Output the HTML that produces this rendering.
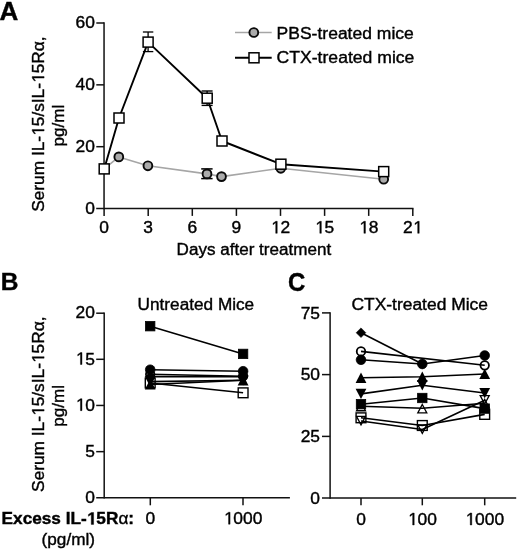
<!DOCTYPE html>
<html><head><meta charset="utf-8"><title>Figure</title>
<style>
html,body{margin:0;padding:0;background:#fff;}
body{width:520px;height:550px;overflow:hidden;}
svg{display:block;font-family:"Liberation Sans",sans-serif;fill:#000;}
text{stroke:#000;stroke-width:0.4px;}
</style></head><body>
<svg width="520" height="550" viewBox="0 0 520 550" style="filter:grayscale(1)">
<rect x="0" y="0" width="520" height="550" fill="#fff"/>
<text x="-0.4" y="19.6" text-anchor="start" font-size="25" font-weight="bold" textLength="18.8" lengthAdjust="spacingAndGlyphs">A</text>
<line x1="104.05" y1="22.25" x2="104.05" y2="209.35" stroke="#111" stroke-width="1.5" stroke-linecap="butt"/>
<line x1="96.2" y1="208.6" x2="413.5" y2="208.6" stroke="#111" stroke-width="1.5" stroke-linecap="butt"/>
<line x1="96.3" y1="23.0" x2="104.05" y2="23.0" stroke="#111" stroke-width="1.5" stroke-linecap="butt"/>
<text x="75.55" y="28.2" font-size="17.4">6</text>
<text x="85.22" y="28.2" font-size="17.4">0</text>
<line x1="96.3" y1="84.85" x2="104.05" y2="84.85" stroke="#111" stroke-width="1.5" stroke-linecap="butt"/>
<text x="75.55" y="90.05" font-size="17.4">4</text>
<text x="85.22" y="90.05" font-size="17.4">0</text>
<line x1="96.3" y1="146.7" x2="104.05" y2="146.7" stroke="#111" stroke-width="1.5" stroke-linecap="butt"/>
<text x="75.55" y="151.89999999999998" font-size="17.4">2</text>
<text x="85.22" y="151.89999999999998" font-size="17.4">0</text>
<text x="85.22" y="213.79999999999998" font-size="17.4">0</text>
<line x1="104.1" y1="208.6" x2="104.1" y2="215.9" stroke="#111" stroke-width="1.5" stroke-linecap="butt"/>
<text x="99.26" y="233.3" font-size="17.4">0</text>
<line x1="148.2" y1="208.6" x2="148.2" y2="215.9" stroke="#111" stroke-width="1.5" stroke-linecap="butt"/>
<text x="143.36" y="233.3" font-size="17.4">3</text>
<line x1="192.29999999999998" y1="208.6" x2="192.29999999999998" y2="215.9" stroke="#111" stroke-width="1.5" stroke-linecap="butt"/>
<text x="187.46" y="233.3" font-size="17.4">6</text>
<line x1="236.39999999999998" y1="208.6" x2="236.39999999999998" y2="215.9" stroke="#111" stroke-width="1.5" stroke-linecap="butt"/>
<text x="231.56" y="233.3" font-size="17.4">9</text>
<line x1="280.5" y1="208.6" x2="280.5" y2="215.9" stroke="#111" stroke-width="1.5" stroke-linecap="butt"/>
<path d="M575 0V1237L257 1010V1180L590 1409H756V0Z" transform="translate(270.82,233.3) scale(0.00850,-0.00850)" fill="#000" stroke="#000" stroke-width="47"/>
<text x="280.50" y="233.3" font-size="17.4">2</text>
<line x1="324.6" y1="208.6" x2="324.6" y2="215.9" stroke="#111" stroke-width="1.5" stroke-linecap="butt"/>
<path d="M575 0V1237L257 1010V1180L590 1409H756V0Z" transform="translate(314.92,233.3) scale(0.00850,-0.00850)" fill="#000" stroke="#000" stroke-width="47"/>
<text x="324.60" y="233.3" font-size="17.4">5</text>
<line x1="368.69999999999993" y1="208.6" x2="368.69999999999993" y2="215.9" stroke="#111" stroke-width="1.5" stroke-linecap="butt"/>
<path d="M575 0V1237L257 1010V1180L590 1409H756V0Z" transform="translate(359.02,233.3) scale(0.00850,-0.00850)" fill="#000" stroke="#000" stroke-width="47"/>
<text x="368.70" y="233.3" font-size="17.4">8</text>
<line x1="412.79999999999995" y1="208.6" x2="412.79999999999995" y2="215.9" stroke="#111" stroke-width="1.5" stroke-linecap="butt"/>
<text x="403.12" y="233.3" font-size="17.4">2</text>
<path d="M575 0V1237L257 1010V1180L590 1409H756V0Z" transform="translate(412.80,233.3) scale(0.00850,-0.00850)" fill="#000" stroke="#000" stroke-width="47"/>
<text x="253.9" y="254.6" text-anchor="middle" font-size="17.3" font-weight="normal" textLength="154.6" lengthAdjust="spacingAndGlyphs">Days after treatment</text>
<g transform="translate(44.1,211.8) rotate(-90) scale(1.00008,1)">
<text x="0.00" y="0" font-size="17.3" font-weight="normal" xml:space="preserve">Serum IL-</text>
<path d="M575 0V1237L257 1010V1180L590 1409H756V0Z" transform="translate(75.95,0) scale(0.00845,-0.00845)" fill="#000" stroke="#000" stroke-width="47"/>
<text x="85.57" y="0" font-size="17.3" font-weight="normal" xml:space="preserve">5/sIL-</text>
<path d="M575 0V1237L257 1010V1180L590 1409H756V0Z" transform="translate(128.84,0) scale(0.00845,-0.00845)" fill="#000" stroke="#000" stroke-width="47"/>
<text x="138.46" y="0" font-size="17.3" font-weight="normal" xml:space="preserve">5Rα,</text>
</g>
<text transform="translate(64.2,146.6) rotate(-90)" font-size="17.3" textLength="41.8" lengthAdjust="spacingAndGlyphs">pg/ml</text>
<polyline points="104.2,168.9 118.8,156.9 147.9,165.8 207,173.9 221.5,176.6 280.8,168.3 383.7,179.2" fill="none" stroke="#a6a6a6" stroke-width="1.6" stroke-linejoin="round"/>
<line x1="206.9" y1="168.9" x2="206.9" y2="178.6" stroke="#000" stroke-width="1.5" stroke-linecap="butt"/>
<line x1="201.20000000000002" y1="168.9" x2="212.6" y2="168.9" stroke="#000" stroke-width="1.5" stroke-linecap="butt"/>
<line x1="201.20000000000002" y1="178.6" x2="212.6" y2="178.6" stroke="#000" stroke-width="1.5" stroke-linecap="butt"/>
<circle cx="118.8" cy="156.9" r="4.4" fill="#ababab" stroke="#0a0a0a" stroke-width="1.9"/>
<circle cx="147.9" cy="165.8" r="4.4" fill="#ababab" stroke="#0a0a0a" stroke-width="1.9"/>
<circle cx="207" cy="173.9" r="4.4" fill="#ababab" stroke="#0a0a0a" stroke-width="1.9"/>
<circle cx="221.5" cy="176.6" r="4.4" fill="#ababab" stroke="#0a0a0a" stroke-width="1.9"/>
<circle cx="280.8" cy="168.3" r="4.4" fill="#ababab" stroke="#0a0a0a" stroke-width="1.9"/>
<circle cx="383.7" cy="179.2" r="4.4" fill="#ababab" stroke="#0a0a0a" stroke-width="1.9"/>
<polyline points="104.2,168.9 119,118 148.1,42.1 207.2,98.2 222,141 280.9,164.2 383.7,171.6" fill="none" stroke="#000" stroke-width="1.9" stroke-linejoin="round"/>
<line x1="148.1" y1="32" x2="148.1" y2="51.6" stroke="#000" stroke-width="1.3" stroke-linecap="butt"/>
<line x1="142.9" y1="32" x2="153.29999999999998" y2="32" stroke="#000" stroke-width="1.3" stroke-linecap="butt"/>
<line x1="142.9" y1="51.6" x2="153.29999999999998" y2="51.6" stroke="#000" stroke-width="1.3" stroke-linecap="butt"/>
<line x1="207.1" y1="91.0" x2="207.1" y2="105.4" stroke="#000" stroke-width="1.4" stroke-linecap="butt"/>
<line x1="201.6" y1="91.0" x2="212.6" y2="91.0" stroke="#000" stroke-width="1.4" stroke-linecap="butt"/>
<line x1="201.6" y1="105.4" x2="212.6" y2="105.4" stroke="#000" stroke-width="1.4" stroke-linecap="butt"/>
<rect x="99.20" y="163.90" width="10" height="10" fill="#fff" stroke="#000" stroke-width="1.5"/>
<rect x="114.00" y="113.00" width="10" height="10" fill="#fff" stroke="#000" stroke-width="1.5"/>
<rect x="143.10" y="37.10" width="10" height="10" fill="#fff" stroke="#000" stroke-width="1.5"/>
<rect x="202.20" y="93.20" width="10" height="10" fill="#fff" stroke="#000" stroke-width="1.5"/>
<rect x="217.00" y="136.00" width="10" height="10" fill="#fff" stroke="#000" stroke-width="1.5"/>
<rect x="275.90" y="159.20" width="10" height="10" fill="#fff" stroke="#000" stroke-width="1.5"/>
<rect x="378.70" y="166.60" width="10" height="10" fill="#fff" stroke="#000" stroke-width="1.5"/>
<line x1="235" y1="32.5" x2="271.7" y2="32.5" stroke="#a6a6a6" stroke-width="1.6" stroke-linecap="butt"/>
<circle cx="253.8" cy="32.5" r="4.4" fill="#ababab" stroke="#0a0a0a" stroke-width="1.9"/>
<line x1="235" y1="57.8" x2="271.7" y2="57.8" stroke="#000" stroke-width="1.9" stroke-linecap="butt"/>
<rect x="249.00" y="52.80" width="10" height="10" fill="#fff" stroke="#000" stroke-width="1.5"/>
<text x="276.6" y="38.6" text-anchor="start" font-size="17.3" font-weight="normal" textLength="137.2" lengthAdjust="spacingAndGlyphs">PBS-treated mice</text>
<text x="276.6" y="63.4" text-anchor="start" font-size="17.4" font-weight="normal" textLength="137.8" lengthAdjust="spacingAndGlyphs">CTX-treated mice</text>
<text x="0.7" y="290.3" text-anchor="start" font-size="24.5" font-weight="bold">B</text>
<line x1="104.2" y1="312.45" x2="104.2" y2="498.6" stroke="#111" stroke-width="1.5" stroke-linecap="butt"/>
<line x1="96.2" y1="497.85" x2="289.9" y2="497.85" stroke="#111" stroke-width="1.5" stroke-linecap="butt"/>
<line x1="96.2" y1="313.2" x2="104.2" y2="313.2" stroke="#111" stroke-width="1.5" stroke-linecap="butt"/>
<text x="75.55" y="318.4" font-size="17.4">2</text>
<text x="85.22" y="318.4" font-size="17.4">0</text>
<line x1="96.2" y1="359.3" x2="104.2" y2="359.3" stroke="#111" stroke-width="1.5" stroke-linecap="butt"/>
<path d="M575 0V1237L257 1010V1180L590 1409H756V0Z" transform="translate(75.55,364.5) scale(0.00850,-0.00850)" fill="#000" stroke="#000" stroke-width="47"/>
<text x="85.22" y="364.5" font-size="17.4">5</text>
<line x1="96.2" y1="405.45" x2="104.2" y2="405.45" stroke="#111" stroke-width="1.5" stroke-linecap="butt"/>
<path d="M575 0V1237L257 1010V1180L590 1409H756V0Z" transform="translate(75.55,410.65) scale(0.00850,-0.00850)" fill="#000" stroke="#000" stroke-width="47"/>
<text x="85.22" y="410.65" font-size="17.4">0</text>
<line x1="96.2" y1="451.65" x2="104.2" y2="451.65" stroke="#111" stroke-width="1.5" stroke-linecap="butt"/>
<text x="85.22" y="456.84999999999997" font-size="17.4">5</text>
<text x="85.22" y="503.05" font-size="17.4">0</text>
<line x1="150.3" y1="497.85" x2="150.3" y2="505.3" stroke="#111" stroke-width="1.5" stroke-linecap="butt"/>
<text x="145.46" y="524.2" font-size="17.4">0</text>
<line x1="243" y1="497.85" x2="243" y2="505.3" stroke="#111" stroke-width="1.5" stroke-linecap="butt"/>
<path d="M575 0V1237L257 1010V1180L590 1409H756V0Z" transform="translate(223.65,524.2) scale(0.00850,-0.00850)" fill="#000" stroke="#000" stroke-width="47"/>
<text x="233.32" y="524.2" font-size="17.4">0</text>
<text x="243.00" y="524.2" font-size="17.4">0</text>
<text x="252.68" y="524.2" font-size="17.4">0</text>
<text x="137.6" y="310.2" text-anchor="start" font-size="17.3" font-weight="normal" textLength="116.6" lengthAdjust="spacingAndGlyphs">Untreated Mice</text>
<g transform="translate(44.1,491.90000000000003) rotate(-90) scale(1.00008,1)">
<text x="0.00" y="0" font-size="17.3" font-weight="normal" xml:space="preserve">Serum IL-</text>
<path d="M575 0V1237L257 1010V1180L590 1409H756V0Z" transform="translate(75.95,0) scale(0.00845,-0.00845)" fill="#000" stroke="#000" stroke-width="47"/>
<text x="85.57" y="0" font-size="17.3" font-weight="normal" xml:space="preserve">5/sIL-</text>
<path d="M575 0V1237L257 1010V1180L590 1409H756V0Z" transform="translate(128.84,0) scale(0.00845,-0.00845)" fill="#000" stroke="#000" stroke-width="47"/>
<text x="138.46" y="0" font-size="17.3" font-weight="normal" xml:space="preserve">5Rα,</text>
</g>
<text transform="translate(64.2,426.70000000000005) rotate(-90)" font-size="17.3" textLength="41.8" lengthAdjust="spacingAndGlyphs">pg/ml</text>
<g transform="translate(1.6,524.4) rotate(0) scale(0.99555,1)">
<text x="0.00" y="0" font-size="17.3" font-weight="bold" xml:space="preserve">Excess IL-</text>
<path d="M528 0V1170L190 959V1180L543 1409H809V0Z" transform="translate(85.59,0) scale(0.00845,-0.00845)" fill="#000" stroke="#000" stroke-width="47"/>
<text x="95.21" y="0" font-size="17.3" font-weight="bold" xml:space="preserve">5R</text>
<text x="117.33" y="0" font-size="17.3" font-weight="normal" xml:space="preserve">α</text>
<text x="127.33" y="0" font-size="17.3" font-weight="bold" xml:space="preserve">:</text>
</g>
<text x="68.3" y="544.6" text-anchor="middle" font-size="17.3" font-weight="normal" textLength="53.4" lengthAdjust="spacingAndGlyphs">(pg/ml)</text>
<line x1="150.2" y1="326.2" x2="243.1" y2="353.9" stroke="#000" stroke-width="1.6" stroke-linecap="butt"/>
<line x1="150.2" y1="369.7" x2="243.1" y2="371.2" stroke="#000" stroke-width="1.6" stroke-linecap="butt"/>
<line x1="150.2" y1="374.3" x2="243.1" y2="376.2" stroke="#000" stroke-width="1.6" stroke-linecap="butt"/>
<line x1="150.2" y1="376.6" x2="243.1" y2="376.8" stroke="#000" stroke-width="1.6" stroke-linecap="butt"/>
<line x1="150.2" y1="381.6" x2="243.1" y2="380.3" stroke="#000" stroke-width="1.6" stroke-linecap="butt"/>
<line x1="150.2" y1="384.5" x2="243.1" y2="380.3" stroke="#000" stroke-width="1.6" stroke-linecap="butt"/>
<line x1="150.2" y1="383.0" x2="243.1" y2="392.8" stroke="#000" stroke-width="1.6" stroke-linecap="butt"/>
<rect x="145.50" y="321.50" width="9.4" height="9.4" fill="#000" stroke="#000" stroke-width="0.8"/>
<rect x="238.40" y="349.20" width="9.4" height="9.4" fill="#000" stroke="#000" stroke-width="0.8"/>
<circle cx="150.2" cy="369.7" r="4.8" fill="#000" stroke="#000" stroke-width="0.8"/>
<circle cx="243.1" cy="371.2" r="4.8" fill="#000" stroke="#000" stroke-width="0.8"/>
<circle cx="150.2" cy="374.3" r="4.25" fill="none" stroke="#000" stroke-width="1.8"/>
<circle cx="243.1" cy="376.2" r="4.25" fill="none" stroke="#000" stroke-width="1.8"/>
<polygon points="150.2,371.8 155.0,376.6 150.2,381.40000000000003 145.39999999999998,376.6" fill="#000" stroke="#000" stroke-width="0.6"/>
<polygon points="243.1,372.0 247.9,376.8 243.1,381.6 238.29999999999998,376.8" fill="#000" stroke="#000" stroke-width="0.6"/>
<polygon points="150.2,386.80 155.60,376.50 144.80,376.50" fill="#000"/>
<polygon points="243.1,385.50 248.50,375.20 237.70,375.20" fill="#000"/>
<polygon points="150.2,379.30 155.60,389.60 144.80,389.60" fill="#000"/>
<polygon points="243.1,375.10 248.50,385.40 237.70,385.40" fill="#000"/>
<rect x="145.30" y="378.10" width="9.8" height="9.8" fill="none" stroke="#000" stroke-width="1.4"/>
<rect x="238.20" y="387.90" width="9.8" height="9.8" fill="none" stroke="#000" stroke-width="1.4"/>
<text x="288.0" y="290.5" text-anchor="start" font-size="25.2" font-weight="bold" textLength="17.3" lengthAdjust="spacingAndGlyphs">C</text>
<line x1="330.1" y1="312.15" x2="330.1" y2="498.85" stroke="#111" stroke-width="1.5" stroke-linecap="butt"/>
<line x1="322.0" y1="498.1" x2="516.2" y2="498.1" stroke="#111" stroke-width="1.5" stroke-linecap="butt"/>
<line x1="322.0" y1="312.9" x2="330.1" y2="312.9" stroke="#111" stroke-width="1.5" stroke-linecap="butt"/>
<text x="300.65" y="318.59999999999997" font-size="17.4">7</text>
<text x="310.32" y="318.59999999999997" font-size="17.4">5</text>
<line x1="322.0" y1="374.6" x2="330.1" y2="374.6" stroke="#111" stroke-width="1.5" stroke-linecap="butt"/>
<text x="300.65" y="380.3" font-size="17.4">5</text>
<text x="310.32" y="380.3" font-size="17.4">0</text>
<line x1="322.0" y1="436.4" x2="330.1" y2="436.4" stroke="#111" stroke-width="1.5" stroke-linecap="butt"/>
<text x="300.65" y="442.09999999999997" font-size="17.4">2</text>
<text x="310.32" y="442.09999999999997" font-size="17.4">5</text>
<text x="310.32" y="503.8" font-size="17.4">0</text>
<line x1="361.0" y1="498.1" x2="361.0" y2="505.3" stroke="#111" stroke-width="1.5" stroke-linecap="butt"/>
<text x="356.16" y="525.0" font-size="17.4">0</text>
<line x1="422.3" y1="498.1" x2="422.3" y2="505.3" stroke="#111" stroke-width="1.5" stroke-linecap="butt"/>
<path d="M575 0V1237L257 1010V1180L590 1409H756V0Z" transform="translate(407.78,525.0) scale(0.00850,-0.00850)" fill="#000" stroke="#000" stroke-width="47"/>
<text x="417.46" y="525.0" font-size="17.4">0</text>
<text x="427.14" y="525.0" font-size="17.4">0</text>
<line x1="484.7" y1="498.1" x2="484.7" y2="505.3" stroke="#111" stroke-width="1.5" stroke-linecap="butt"/>
<path d="M575 0V1237L257 1010V1180L590 1409H756V0Z" transform="translate(465.35,525.0) scale(0.00850,-0.00850)" fill="#000" stroke="#000" stroke-width="47"/>
<text x="475.02" y="525.0" font-size="17.4">0</text>
<text x="484.70" y="525.0" font-size="17.4">0</text>
<text x="494.38" y="525.0" font-size="17.4">0</text>
<text x="351.4" y="310.0" text-anchor="start" font-size="17.3" font-weight="normal" textLength="136.6" lengthAdjust="spacingAndGlyphs">CTX-treated Mice</text>
<polyline points="361.0,404.2 422.3,398.0 484.7,408.6" fill="none" stroke="#000" stroke-width="1.6" stroke-linejoin="round"/>
<polyline points="361.0,377.8 422.3,376.8 484.7,374.0" fill="none" stroke="#000" stroke-width="1.6" stroke-linejoin="round"/>
<polyline points="361.0,393.9 422.3,385.2 484.7,393.0" fill="none" stroke="#000" stroke-width="1.6" stroke-linejoin="round"/>
<polyline points="361.0,332.7 422.3,364.0" fill="none" stroke="#000" stroke-width="1.6" stroke-linejoin="round"/>
<polyline points="361.0,359.8 422.3,364.0 484.7,355.5" fill="none" stroke="#000" stroke-width="1.6" stroke-linejoin="round"/>
<polyline points="361.0,417.8 422.3,425.5 484.7,414.4" fill="none" stroke="#000" stroke-width="1.6" stroke-linejoin="round"/>
<polyline points="361.0,406.2 422.3,408.3 484.7,403.2" fill="none" stroke="#000" stroke-width="1.6" stroke-linejoin="round"/>
<polyline points="361.0,421.0 422.3,429.5 484.7,400.2" fill="none" stroke="#000" stroke-width="1.6" stroke-linejoin="round"/>
<polyline points="361.0,351.4 484.7,365.3" fill="none" stroke="#000" stroke-width="1.6" stroke-linejoin="round"/>
<rect x="356.30" y="399.50" width="9.4" height="9.4" fill="#000" stroke="#000" stroke-width="0.8"/>
<rect x="417.60" y="393.30" width="9.4" height="9.4" fill="#000" stroke="#000" stroke-width="0.8"/>
<rect x="480.00" y="403.90" width="9.4" height="9.4" fill="#000" stroke="#000" stroke-width="0.8"/>
<polygon points="361.0,372.60 366.40,382.90 355.60,382.90" fill="#000"/>
<polygon points="422.3,371.60 427.70,381.90 416.90,381.90" fill="#000"/>
<polygon points="484.7,368.80 490.10,379.10 479.30,379.10" fill="#000"/>
<polygon points="361.0,399.10 366.40,388.80 355.60,388.80" fill="#000"/>
<polygon points="422.3,390.40 427.70,380.10 416.90,380.10" fill="#000"/>
<polygon points="484.7,398.20 490.10,387.90 479.30,387.90" fill="#000"/>
<polygon points="361.0,327.9 365.8,332.7 361.0,337.5 356.2,332.7" fill="#000" stroke="#000" stroke-width="0.6"/>
<polygon points="422.3,359.2 427.1,364.0 422.3,368.8 417.5,364.0" fill="#000" stroke="#000" stroke-width="0.6"/>
<circle cx="361.0" cy="359.8" r="4.8" fill="#000" stroke="#000" stroke-width="0.8"/>
<circle cx="422.3" cy="364.0" r="4.8" fill="#000" stroke="#000" stroke-width="0.8"/>
<circle cx="484.7" cy="355.5" r="4.8" fill="#000" stroke="#000" stroke-width="0.8"/>
<rect x="356.10" y="412.90" width="9.8" height="9.8" fill="none" stroke="#000" stroke-width="1.4"/>
<rect x="417.40" y="420.60" width="9.8" height="9.8" fill="none" stroke="#000" stroke-width="1.4"/>
<rect x="479.80" y="409.50" width="9.8" height="9.8" fill="none" stroke="#000" stroke-width="1.4"/>
<polygon points="361.0,402.38 365.50,410.77 356.50,410.77" fill="none" stroke="#000" stroke-width="1.3" stroke-linejoin="miter"/>
<polygon points="422.3,404.48 426.80,412.87 417.80,412.87" fill="none" stroke="#000" stroke-width="1.3" stroke-linejoin="miter"/>
<polygon points="484.7,399.38 489.20,407.77 480.20,407.77" fill="none" stroke="#000" stroke-width="1.3" stroke-linejoin="miter"/>
<polygon points="361.0,424.82 365.50,416.43 356.50,416.43" fill="none" stroke="#000" stroke-width="1.3" stroke-linejoin="miter"/>
<polygon points="422.3,433.32 426.80,424.93 417.80,424.93" fill="none" stroke="#000" stroke-width="1.3" stroke-linejoin="miter"/>
<polygon points="484.7,404.02 489.20,395.63 480.20,395.63" fill="none" stroke="#000" stroke-width="1.3" stroke-linejoin="miter"/>
<circle cx="361.0" cy="351.4" r="4.25" fill="none" stroke="#000" stroke-width="1.8"/>
<circle cx="484.7" cy="365.3" r="4.25" fill="none" stroke="#000" stroke-width="1.8"/>
</svg>
</body></html>
